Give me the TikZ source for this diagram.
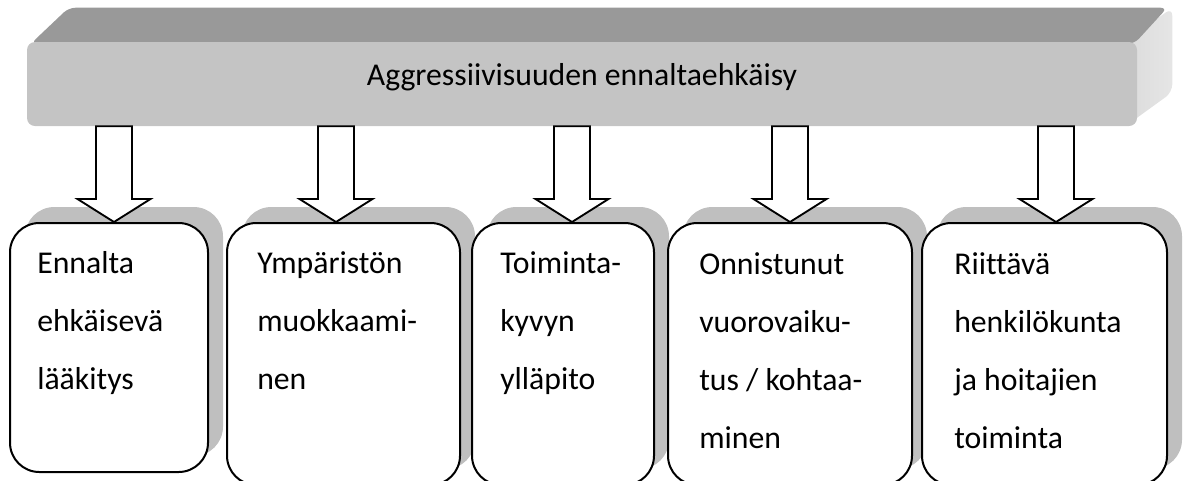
\documentclass[tikz,border=0pt]{standalone}
\usepackage{fontspec}
\setmainfont{Carlito}[Ligatures=CommonOff]
\usetikzlibrary{calc,shadows}
\definecolor{topface}{gray}{0.60}
\definecolor{frontface}{gray}{0.77}
\definecolor{sidefaceA}{gray}{0.86}
\definecolor{sidefaceB}{gray}{0.90}
\definecolor{shadowc}{gray}{0.75}
\tikzset{
  boxst/.style={draw=black, line width=1.5pt, fill=white, rounded corners=22pt, inner sep=0pt,
    drop shadow={shadow xshift=11.25pt, shadow yshift=12pt, fill=shadowc, opacity=1}},
  barst/.style={rounded corners=6pt, inner sep=0pt, minimum width=832.5pt, minimum height=63pt},
  blkarrow/.style={draw=black, line width=1.4pt, fill=white, line join=miter},
  boxtext/.style={anchor=base west, inner sep=0pt, font=\fontsize{23.8}{43.5}\selectfont},
  bartext/.style={anchor=base, inner sep=0pt, font=\fontsize{23.8}{28}\selectfont},
}
\newcommand\blockarr[2]{%
  \draw[blkarrow] ($(#1 |- bar.south)+(-18,0)$) -- ($(#1 |- bar.south)+(18,0)$)
    -- ($(#1 |- #2.north)+(18,-23)$) -- ($(#1 |- #2.north)+(36.5,-23)$)
    -- (#1 |- #2.north)
    -- ($(#1 |- #2.north)+(-36.5,-23)$) -- ($(#1 |- #2.north)+(-18,-23)$) -- cycle;}
\begin{document}
\begin{tikzpicture}[x=0.75pt, y=-0.75pt]
\useasboundingbox (0,0) rectangle (1184,480);

% position of the front face of the 3D bar
\path node[barst] (bar) at (582,84) {};
% side and top faces
\shade[left color=sidefaceA, right color=sidefaceB, rounded corners=6pt]
  ($(bar.north east)+(-12,0)$) -- ($(bar.north east)+(35,-34)$)
  -- ($(bar.south east)+(35,-34)$) -- ($(bar.south east)+(-12,0)$) -- cycle;
\fill[topface, rounded corners=5pt]
  ($(bar.north west)+(4,2)$) -- ($(bar.north west)+(42,-34)$)
  -- ($(bar.north east)+(30,-34)$) -- ($(bar.north east)+(-3,2)$) -- cycle;
% front face
\node[barst, fill=frontface] (barfront) at (bar.center) {};
\node[bartext] (bartxt) at (582,85) {Aggressiivisuuden ennaltaehkäisy};

% boxes
\node[boxst, minimum width=148.5pt, minimum height=186.75pt] (b1) at (109,347.5) {};
\node[boxst, minimum width=174.75pt, minimum height=196.5pt] (b2) at (343.5,354) {};
\node[boxst, minimum width=136.5pt, minimum height=196.5pt] (b3) at (563,354) {};
\node[boxst, minimum width=183pt, minimum height=196.5pt] (b4) at (790,354) {};
\node[boxst, minimum width=183.75pt, minimum height=196.5pt] (b5) at (1044.5,354) {};

\node[boxtext] (t1) at (37,273) {\parbox[t]{200pt}{\raggedright Ennalta\\ehkäisevä\\lääkitys}};
\node[boxtext] (t2) at (257,273) {\parbox[t]{200pt}{\raggedright Ympäristön\\muokkaami-\\nen}};
\node[boxtext] (t3) at (500,273) {\parbox[t]{200pt}{\raggedright Toiminta-\\kyvyn\\ylläpito}};
\node[boxtext] (t4) at (699,274) {\parbox[t]{200pt}{\raggedright Onnistunut\\vuorovaiku-\\tus / kohtaa-\\minen}};
\node[boxtext] (t5) at (954,274) {\parbox[t]{200pt}{\raggedright Riittävä\\henkilökunta\\ja hoitajien\\toiminta}};

% arrows
\coordinate (x1) at (114,0);
\coordinate (x2) at (336,0);
\coordinate (x3) at (572,0);
\coordinate (x4) at (790,0);
\coordinate (x5) at (1056,0);
\blockarr{x1}{b1}
\blockarr{x2}{b2}
\blockarr{x3}{b3}
\blockarr{x4}{b4}
\blockarr{x5}{b5}
\end{tikzpicture}
\end{document}
